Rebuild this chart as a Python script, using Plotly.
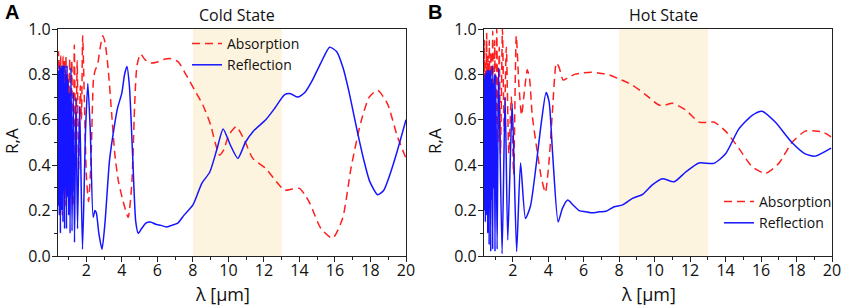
import plotly.graph_objects as go

# ---------------- data ----------------
cold_abs_x = [0.40,0.43,0.46,0.49,0.52,0.55,0.58,0.61,0.64,0.68,0.72,0.76,0.80,0.85,0.90,0.95,1.00,1.06,1.12,1.18,1.25,1.32,1.40,1.48,1.56,1.66,1.72,1.79,1.88,2.00,2.12,2.25,2.40,2.50,2.62,2.78,2.92,3.05,3.23,3.42,3.60,3.80,4.07,4.35,4.55,4.73,4.85,5.05,5.30,5.60,6.00,6.30,6.70,7.16,7.60,8.10,8.56,9.00,9.25,9.50,9.75,10.00,10.44,10.90,11.37,12.10,12.70,13.15,13.60,14.00,14.30,14.60,15.20,15.87,16.43,16.90,17.46,17.93,18.40,18.96,19.50,20.00]
cold_abs_y = [0.25,0.90,0.30,0.86,0.20,0.88,0.35,0.84,0.18,0.88,0.40,0.86,0.22,0.88,0.30,0.80,0.20,0.87,0.35,0.86,0.22,0.93,0.40,0.86,0.38,0.75,0.60,0.97,0.70,0.35,0.24,0.40,0.78,0.82,0.84,0.92,0.97,0.94,0.82,0.63,0.45,0.33,0.24,0.17,0.31,0.69,0.84,0.89,0.865,0.85,0.855,0.865,0.87,0.856,0.80,0.73,0.665,0.577,0.50,0.445,0.47,0.53,0.57,0.51,0.43,0.386,0.327,0.29,0.295,0.298,0.27,0.23,0.122,0.078,0.166,0.386,0.59,0.70,0.73,0.67,0.53,0.43]

cold_ref_x = [0.40,0.415,0.43,0.445,0.46,0.475,0.49,0.505,0.52,0.535,0.55,0.565,0.58,0.60,0.62,0.64,0.66,0.68,0.70,0.72,0.745,0.77,0.795,0.82,0.85,0.88,0.91,0.94,0.97,1.00,1.04,1.08,1.13,
              1.19,1.26,1.33,1.41,1.50,1.62,1.78,1.95,2.08,2.22,2.38,2.48,2.56,2.70,2.88,3.05,3.30,3.55,3.75,4.00,4.15,4.28,4.42,4.60,4.78,4.92,5.10,5.35,5.60,5.90,6.20,6.50,6.80,7.15,7.50,8.00,8.50,8.95,9.35,9.70,10.10,10.53,10.95,11.40,12.10,12.60,13.15,13.50,13.90,14.30,14.70,15.20,15.70,16.10,16.45,16.80,17.20,17.60,17.95,18.40,18.75,19.10,19.50,20.00]
cold_ref_y = [0.75,0.22,0.82,0.30,0.78,0.18,0.84,0.25,0.80,0.10,0.83,0.35,0.79,0.20,0.84,0.28,0.81,0.15,0.84,0.32,0.76,0.12,0.84,0.30,0.80,0.12,0.84,0.26,0.78,0.18,0.72,0.10,0.83,
              0.11,0.72,0.06,0.70,0.12,0.66,0.03,0.55,0.76,0.55,0.17,0.20,0.19,0.10,0.03,0.15,0.42,0.56,0.65,0.72,0.80,0.835,0.75,0.45,0.15,0.10,0.12,0.145,0.15,0.14,0.135,0.128,0.135,0.145,0.18,0.225,0.32,0.37,0.47,0.56,0.49,0.43,0.50,0.55,0.60,0.65,0.71,0.715,0.70,0.72,0.77,0.85,0.92,0.90,0.83,0.72,0.57,0.43,0.33,0.27,0.29,0.36,0.46,0.60]

hot_abs_x = [0.38,0.41,0.44,0.47,0.50,0.53,0.56,0.60,0.64,0.68,0.72,0.77,0.82,0.87,0.92,0.98,1.04,1.10,1.17,1.24,1.31,1.42,1.52,1.64,1.78,1.92,2.05,2.20,2.35,2.50,2.65,2.82,2.95,3.10,3.40,3.60,3.84,4.05,4.25,4.46,4.62,4.84,5.10,5.49,6.00,6.43,6.90,7.37,8.00,8.75,9.50,10.25,10.60,11.00,11.75,12.50,13.00,13.34,14.00,14.75,15.50,16.25,17.00,17.74,18.49,19.05,19.50,19.95]
hot_abs_y = [0.35,0.95,0.25,0.85,0.20,0.98,0.30,0.88,0.22,0.95,0.40,0.90,0.30,0.99,0.45,0.95,0.35,1.00,0.50,0.92,0.45,1.00,0.55,0.92,0.45,0.70,0.36,0.97,0.75,0.62,0.72,0.82,0.78,0.62,0.45,0.35,0.28,0.42,0.65,0.85,0.83,0.775,0.785,0.80,0.807,0.81,0.805,0.80,0.78,0.753,0.71,0.665,0.665,0.673,0.643,0.59,0.588,0.59,0.55,0.474,0.393,0.364,0.408,0.50,0.55,0.551,0.545,0.525]

hot_ref_x = [0.38,0.395,0.41,0.425,0.44,0.455,0.47,0.485,0.50,0.515,0.53,0.55,0.57,0.59,0.61,0.63,0.65,0.67,0.69,0.71,0.735,0.76,0.785,0.81,0.84,0.87,0.90,0.93,0.96,1.00,1.04,1.12,1.20,
             1.40,1.57,1.72,1.97,2.22,2.44,2.72,3.00,3.32,3.60,3.88,4.05,4.25,4.56,4.80,5.10,5.40,5.75,6.10,6.50,6.88,7.25,7.72,8.19,8.75,9.30,9.87,10.44,11.10,11.75,12.50,13.34,14.00,14.75,15.50,16.05,16.80,17.74,18.49,19.05,19.95]
hot_ref_y = [0.70,0.20,0.78,0.35,0.80,0.15,0.76,0.40,0.81,0.18,0.80,0.30,0.82,0.10,0.79,0.45,0.82,0.05,0.80,0.35,0.82,0.02,0.78,0.25,0.84,0.03,0.76,0.30,0.80,0.02,0.80,0.03,0.83,
             0.01,0.70,0.07,0.67,0.02,0.41,0.165,0.22,0.40,0.58,0.72,0.68,0.45,0.15,0.21,0.247,0.225,0.20,0.195,0.19,0.195,0.197,0.217,0.225,0.254,0.27,0.313,0.34,0.327,0.37,0.41,0.408,0.45,0.56,0.62,0.638,0.59,0.50,0.45,0.44,0.475]

x_ticks = [2, 4, 6, 8, 10, 12, 14, 16, 18, 20]
x_minor = [1, 3, 5, 7, 9, 11, 13, 15, 17, 19]
y_ticks = [0.0, 0.2, 0.4, 0.6, 0.8, 1.0]
y_minor = [0.1, 0.3, 0.5, 0.7, 0.9]
band = (8, 13)
panel_titles = ["Cold State", "Hot State"]
panel_letters = ["A", "B"]

# ---------------- figure ----------------
RED = "#ff1f1f"
BLUE = "#1515ff"
FONT = "Open Sans"
W, H = 844, 307

fig = go.Figure()

panels = [
    dict(ax="", ay="", dom=(58, 406), xr=[0.4, 20], ab=(cold_abs_x, cold_abs_y), rf=(cold_ref_x, cold_ref_y), leg="legend"),
    dict(ax="2", ay="2", dom=(484, 832), xr=[0.38, 20], ab=(hot_abs_x, hot_abs_y), rf=(hot_ref_x, hot_ref_y), leg="legend2"),
]

y_top, y_bot = 29, 256
ydom = [1 - y_bot / H, 1 - y_top / H]

for i, p in enumerate(panels):
    fig.add_trace(go.Scatter(x=p["ab"][0], y=p["ab"][1], mode="lines", name="Absorption",
                             line=dict(color=RED, width=1.5, dash="8px,5px", shape="spline", smoothing=0.6),
                             xaxis="x" + p["ax"], yaxis="y" + p["ay"], legend=p["leg"]))
    fig.add_trace(go.Scatter(x=p["rf"][0], y=p["rf"][1], mode="lines", name="Reflection",
                             line=dict(color=BLUE, width=1.5, shape="spline", smoothing=0.6),
                             xaxis="x" + p["ax"], yaxis="y" + p["ay"], legend=p["leg"]))
    fig.add_shape(type="rect", xref="x" + p["ax"], yref="y" + p["ay"], x0=band[0], x1=band[1], y0=0, y1=1,
                  fillcolor="#fdf4df", line_width=0, layer="below")

axis_common = dict(showgrid=False, zeroline=False, showline=True, linecolor="#222", linewidth=1.2,
                   mirror=True, ticks="outside", ticklen=5, tickcolor="#222", automargin=False,
                   tickfont=dict(family=FONT, size=16, color="#111"))

for i, p in enumerate(panels):
    xa = dict(axis_common, domain=[p["dom"][0] / W, p["dom"][1] / W], range=p["xr"],
              tickvals=x_ticks, anchor="y" + p["ay"], ticklabelstandoff=-5,
              minor=dict(ticks="outside", ticklen=3, tickvals=x_minor, tickcolor="#222"))
    ya = dict(axis_common, domain=ydom, range=[0, 1], tickvals=y_ticks, tickformat=".1f",
              anchor="x" + p["ax"], ticklabelstandoff=-2,
              minor=dict(ticks="outside", ticklen=3, tickvals=y_minor, tickcolor="#222"))
    fig.layout["xaxis" + p["ax"]] = xa
    fig.layout["yaxis" + p["ay"]] = ya

annotations = []
centers = [(58 + 406) / 2, (484 + 832) / 2]
for i, p in enumerate(panels):
    c = centers[i]
    annotations.append(dict(text=panel_titles[i], x=(c + 5) / W, y=1 - 15 / H, xref="paper", yref="paper",
                            showarrow=False, font=dict(family=FONT, size=16, color="#111"), xanchor="center", yanchor="middle"))
    annotations.append(dict(text="λ [μm]", x=(c - 10) / W, y=1 - 294 / H, xref="paper", yref="paper",
                            showarrow=False, font=dict(family=FONT, size=18, color="#111"), xanchor="center", yanchor="middle"))
    annotations.append(dict(text="R,A", x=(11 + 423 * i) / W, y=1 - 141 / H, xref="paper", yref="paper", textangle=-90,
                            showarrow=False, font=dict(family=FONT, size=17, color="#111"), xanchor="center", yanchor="middle"))
    annotations.append(dict(text="<b>" + panel_letters[i] + "</b>", x=(3 + 423 * i) / W, y=1 - 12 / H, xref="paper", yref="paper",
                            showarrow=False, font=dict(family="Liberation Sans", size=20, color="#000"), xanchor="left", yanchor="middle"))

fig.update_layout(
    template="none",
    width=W, height=H, margin=dict(l=0, r=0, t=0, b=0, autoexpand=False),
    plot_bgcolor="white", paper_bgcolor="white",
    annotations=annotations,
    legend=dict(x=187 / W, y=1 - 28 / H, xanchor="left", yanchor="top", bgcolor="rgba(0,0,0,0)",
                font=dict(family=FONT, size=14, color="#111"), tracegroupgap=0, itemwidth=30),
    legend2=dict(x=719 / W, y=1 - 186 / H, xanchor="left", yanchor="top", bgcolor="rgba(0,0,0,0)",
                 font=dict(family=FONT, size=14, color="#111"), tracegroupgap=0, itemwidth=30),
)

fig.write_html("out.html", config={"displayModeBar": False},
               post_script="document.body.style.margin='0';document.body.style.overflow='hidden';")
